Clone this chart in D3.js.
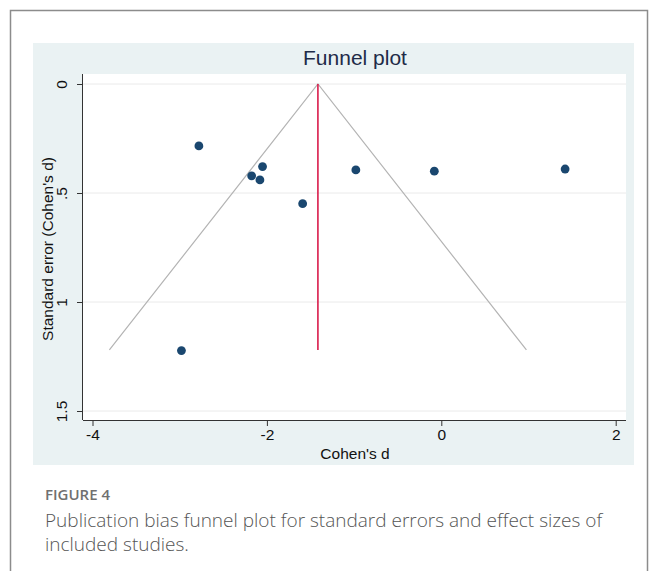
<!DOCTYPE html>
<html>
<head>
  <meta charset="utf-8">
  <script type="text/javascript" src="https://d3js.org/d3.v7.min.js"></script>
  <style type="text/css">
    html, body {
      margin: 0px;
      background: #ffffff;
    }
  </style>
</head>
<body>
<div id="chart"></div>
<script>
"use strict";
// Study effect sizes and standard errors
const COHEN_D = [-2.78, -2.05, -2.175, -2.08, -1.59, -0.98, -0.08, 1.42, -2.98];
const STD_ERR = [0.284, 0.379, 0.421, 0.440, 0.549, 0.394, 0.400, 0.390, 1.223];
// Pooled estimate (red line) and depth of the funnel
const POOLED_D = -1.415;
const FUNNEL_SE = [0, 1.22];
// Axes
const X_TICKS = [-4, -2, 0, 2];
const X_TICK_LABELS = ["-4", "-2", "0", "2"];
const Y_TICKS = [0, 0.5, 1, 1.5];
const Y_TICK_LABELS = ["0", ".5", "1", "1.5"];
const TITLE = "Funnel plot";
const X_TITLE = "Cohen's d";
const Y_TITLE = "Standard error (Cohen's d)";
const FIG_LABEL = "FIGURE 4";
const CAPTION = [
  "Publication bias funnel plot for standard errors and effect sizes of",
  "included studies."
];

const WIDTH = 656;
const HEIGHT = 571;
const PLOT = {left: 83, right: 626, top: 74, bottom: 420};
const STATA_FONT = "'Liberation Sans', Arial, sans-serif";

const svg = d3.select("#chart").append("svg")
  .attr("width", WIDTH)
  .attr("height", HEIGHT);

// outer frame of the figure
svg.append("rect")
  .attr("x", 10.5).attr("y", 10.5)
  .attr("width", 637).attr("height", 600)
  .attr("fill", "none")
  .attr("stroke", "#8c8c8c")
  .attr("stroke-width", 1.5);

// graph background
svg.append("rect")
  .attr("x", 33).attr("y", 43)
  .attr("width", 601).attr("height", 422)
  .attr("fill", "#eaf2f3");

// plot region
svg.append("rect")
  .attr("x", PLOT.left).attr("y", PLOT.top)
  .attr("width", PLOT.right - PLOT.left).attr("height", PLOT.bottom - PLOT.top)
  .attr("fill", "#ffffff");

const x = d3.scaleLinear().domain([-4, 2]).range([92.5, 615.7]);
const y = d3.scaleLinear().domain([0, 1.5]).range([84, 411]);

// horizontal grid
svg.append("g")
  .selectAll("line")
  .data(Y_TICKS)
  .join("line")
  .attr("x1", PLOT.left).attr("x2", PLOT.right)
  .attr("y1", d => y(d)).attr("y2", d => y(d))
  .attr("stroke", "#eaeaea")
  .attr("stroke-width", 1);

// funnel limits
const funnelPts = [
  [POOLED_D - 1.96 * FUNNEL_SE[1], FUNNEL_SE[1]],
  [POOLED_D, FUNNEL_SE[0]],
  [POOLED_D + 1.96 * FUNNEL_SE[1], FUNNEL_SE[1]]
];
svg.append("path")
  .attr("d", d3.line().x(d => x(d[0])).y(d => y(d[1]))(funnelPts))
  .attr("fill", "none")
  .attr("stroke", "#b4b4b4")
  .attr("stroke-width", 1.2);

// pooled effect
svg.append("line")
  .attr("x1", x(POOLED_D)).attr("x2", x(POOLED_D))
  .attr("y1", y(FUNNEL_SE[0])).attr("y2", y(FUNNEL_SE[1]))
  .attr("stroke", "#d91c4b")
  .attr("stroke-width", 1.6);

// studies
svg.append("g")
  .selectAll("circle")
  .data(COHEN_D.map((d, i) => [d, STD_ERR[i]]))
  .join("circle")
  .attr("cx", d => x(d[0]))
  .attr("cy", d => y(d[1]))
  .attr("r", 4.4)
  .attr("fill", "#1a476f");

// x axis
const xAxis = svg.append("g")
  .attr("transform", `translate(0,${PLOT.bottom})`)
  .call(d3.axisBottom(x).tickValues(X_TICKS).tickSize(6).tickPadding(3)
    .tickFormat((d, i) => X_TICK_LABELS[i]));
xAxis.select(".domain")
  .attr("d", `M${PLOT.left},0.5H${PLOT.right}`)
  .attr("stroke", "#333");
xAxis.selectAll(".tick line").attr("stroke", "#333");
xAxis.selectAll("text")
  .attr("font-family", STATA_FONT)
  .attr("font-size", 15.5)
  .attr("fill", "#111");

// y axis
const yAxis = svg.append("g")
  .attr("transform", `translate(${PLOT.left},0)`)
  .call(d3.axisLeft(y).tickValues(Y_TICKS).tickSize(6)
    .tickFormat((d, i) => Y_TICK_LABELS[i]));
yAxis.select(".domain")
  .attr("d", `M-0.5,${PLOT.top}V${PLOT.bottom}`)
  .attr("stroke", "#333");
yAxis.selectAll(".tick line").attr("stroke", "#333");
yAxis.selectAll("text")
  .attr("x", null).attr("dy", null)
  .attr("transform", "translate(-16,0) rotate(-90)")
  .attr("text-anchor", "middle")
  .attr("font-family", STATA_FONT)
  .attr("font-size", 15.5)
  .attr("fill", "#111");

// titles
svg.append("text")
  .attr("x", 355).attr("y", 65)
  .attr("text-anchor", "middle")
  .attr("font-family", STATA_FONT)
  .attr("font-size", 21)
  .attr("fill", "#1e2b48")
  .text(TITLE);

svg.append("text")
  .attr("x", 355).attr("y", 459)
  .attr("text-anchor", "middle")
  .attr("font-family", STATA_FONT)
  .attr("font-size", 15.5)
  .attr("fill", "#111")
  .text(X_TITLE);

svg.append("text")
  .attr("transform", `translate(53,${(PLOT.top + PLOT.bottom) / 2 + 2}) rotate(-90)`)
  .attr("text-anchor", "middle")
  .attr("font-family", STATA_FONT)
  .attr("font-size", 15.5)
  .attr("fill", "#111")
  .text(Y_TITLE);

// figure caption
svg.append("text")
  .attr("x", 45).attr("y", 500)
  .attr("font-family", "'Open Sans', sans-serif")
  .attr("font-size", 15)
  .attr("font-weight", 600)
  .attr("fill", "#707070")
  .text(FIG_LABEL);

svg.append("g")
  .selectAll("text")
  .data(CAPTION)
  .join("text")
  .attr("x", 45)
  .attr("y", (d, i) => 527 + i * 24)
  .attr("font-family", "'Open Sans', sans-serif")
  .attr("font-size", 19)
  .attr("font-weight", 300)
  .attr("fill", "#555")
  .text(d => d);
</script>
</body>
</html>
